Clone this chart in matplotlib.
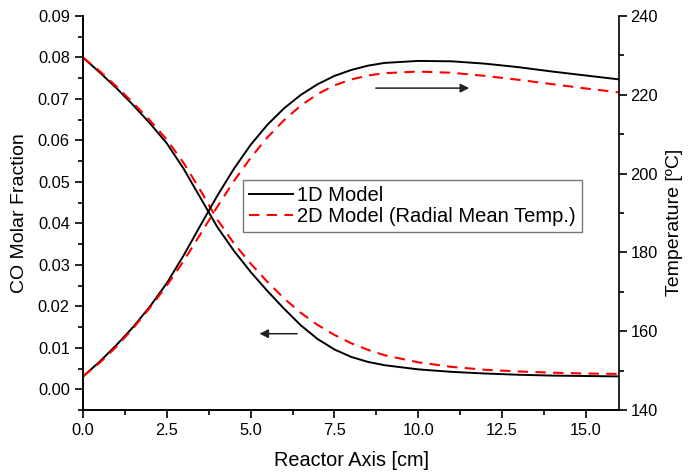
import matplotlib
matplotlib.use("Agg")
import matplotlib.pyplot as plt
from matplotlib.ticker import MultipleLocator, FormatStrFormatter

plt.rcParams['font.family'] = ['Liberation Sans', 'DejaVu Sans']

# reactor axis positions [cm]
x_pos = [0, 0.5, 1, 1.5, 2, 2.5, 3, 3.5, 4, 4.5, 5, 5.5, 6, 6.5, 7, 7.5,
         8, 8.5, 9, 10, 11, 12, 13, 14, 15, 16]

# CO molar fraction
co_1d = [0.0800, 0.0764, 0.0726, 0.0685, 0.0641, 0.0593, 0.0532, 0.0462,
         0.0392, 0.0334, 0.0283, 0.0237, 0.0194, 0.0154, 0.0121, 0.0096,
         0.0078, 0.0066, 0.0058, 0.0048, 0.0042, 0.0038, 0.0035, 0.0033,
         0.0032, 0.0031]
co_2d = [0.0800, 0.0767, 0.0730, 0.0690, 0.0648, 0.0602, 0.0546, 0.0480,
         0.0410, 0.0352, 0.0303, 0.0259, 0.0219, 0.0184, 0.0155, 0.0131,
         0.0111, 0.0095, 0.0082, 0.0065, 0.0054, 0.0047, 0.0043, 0.0040,
         0.0038, 0.0037]

# temperature [C]
t_1d = [148.5, 152.3, 156.5, 161.1, 166.3, 172.2, 179.2, 186.8, 194.3,
        201.2, 207.3, 212.4, 216.6, 220.0, 222.7, 224.8, 226.3, 227.4,
        228.1, 228.6, 228.5, 227.9, 227.0, 225.9, 224.9, 223.9]
t_2d = [148.5, 152.0, 156.1, 160.8, 166.0, 171.6, 177.8, 184.6, 191.5,
        198.1, 204.0, 209.2, 213.6, 217.3, 220.2, 222.4, 223.9, 224.9,
        225.5, 225.9, 225.6, 224.8, 223.8, 222.7, 221.6, 220.6]

labels = ['1D Model', '2D Model (Radial Mean Temp.)']

fig = plt.figure(figsize=(6.88, 4.75), dpi=100)
ax = fig.add_axes([0.1206, 0.1368, 0.7798, 0.8295])
ax2 = ax.twinx()

l1, = ax.plot(x_pos, co_1d, color='black', lw=1.4)
l2, = ax.plot(x_pos, co_2d, color='red', lw=1.5, dashes=(5, 3.5))
ax2.plot(x_pos, t_1d, color='black', lw=1.4)
ax2.plot(x_pos, t_2d, color='red', lw=1.5, dashes=(5, 3.5))

ax.set_xlim(0, 16)
ax.set_ylim(-0.005, 0.09)
ax2.set_ylim(140, 240)

ax.xaxis.set_major_locator(MultipleLocator(2.5))
ax.xaxis.set_minor_locator(MultipleLocator(1.25))
ax.xaxis.set_major_formatter(FormatStrFormatter('%.1f'))
ax.yaxis.set_major_locator(MultipleLocator(0.01))
ax.yaxis.set_minor_locator(MultipleLocator(0.005))
ax.yaxis.set_major_formatter(FormatStrFormatter('%.2f'))
ax2.yaxis.set_major_locator(MultipleLocator(20))
ax2.yaxis.set_minor_locator(MultipleLocator(10))

for a in (ax, ax2):
    a.spines['top'].set_visible(False)
    for s in a.spines.values():
        s.set_linewidth(1.2)
    a.tick_params(which='major', direction='out', length=6, width=1.2,
                  labelsize=11.8)
    a.tick_params(which='minor', direction='out', length=3.5, width=1.2)
ax.spines['right'].set_visible(False)
ax2.tick_params(which='major', pad=2)

ax.set_xlabel('Reactor Axis [cm]', fontsize=14.3, labelpad=9)
ax.set_ylabel('CO Molar Fraction', fontsize=14, labelpad=7)
ax2.set_ylabel('Temperature [ºC]', fontsize=14, labelpad=6)
ax2.yaxis.set_label_coords(1.087, 0.475)

ax2.annotate('', xy=(11.6, 221.7), xytext=(8.65, 221.7),
             arrowprops=dict(arrowstyle='-|>', color='#222222', lw=1.1,
                             mutation_scale=13))
ax.annotate('', xy=(5.18, 0.0134), xytext=(6.47, 0.0134),
            arrowprops=dict(arrowstyle='-|>', color='#222222', lw=1.1,
                            mutation_scale=13))

leg = ax2.legend([l1, l2], labels, loc='upper left',
                 bbox_to_anchor=(0.298, 0.584), fontsize=14.5,
                 frameon=True, fancybox=False, handlelength=2.2,
                 handletextpad=0.2, borderpad=0.3, labelspacing=0.12,
                 borderaxespad=0)
leg.get_frame().set_edgecolor('#555555')
leg.get_frame().set_linewidth(1.0)

fig.savefig('out.png', dpi=100)
